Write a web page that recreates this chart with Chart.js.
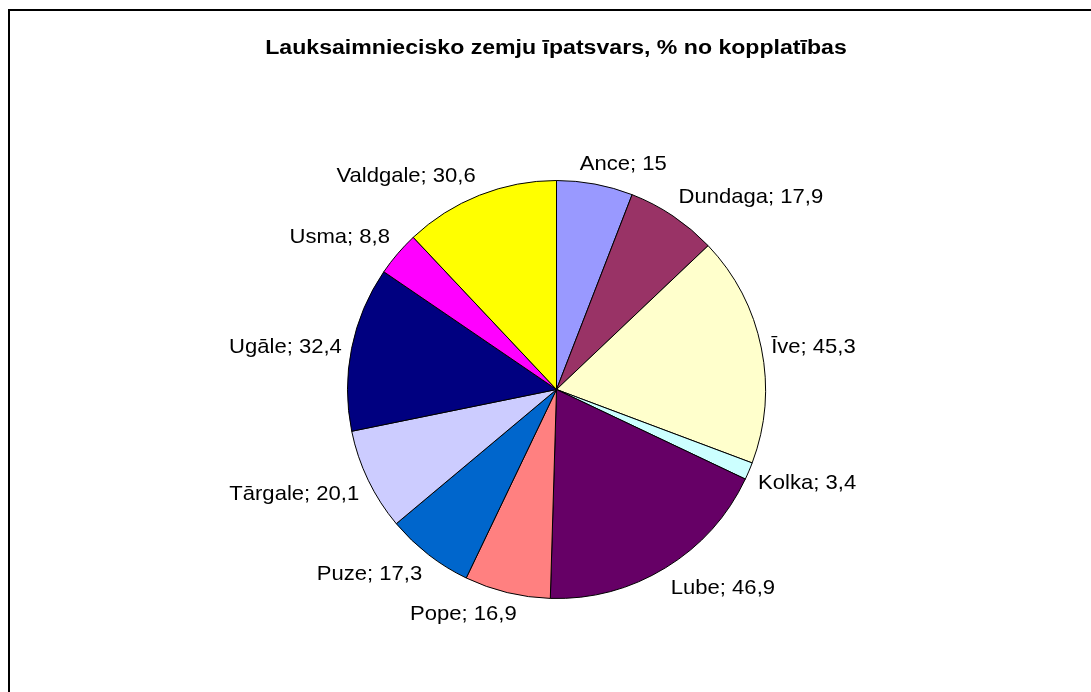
<!DOCTYPE html>
<html>
<head>
<meta charset="utf-8">
<script src="https://cdn.jsdelivr.net/npm/chart.js@4/dist/chart.umd.min.js"></script>
<style>
  html, body { margin: 0; padding: 0; background: #fff; }
  #wrap { position: relative; width: 1091px; height: 692px; }
</style>
</head>
<body>
<div id="wrap"><canvas id="myChart"></canvas></div>
<script>
const chartTitle = 'Lauksaimniecisko zemju īpatsvars, % no kopplatības';
const places = ['Ance', 'Dundaga', 'Īve', 'Kolka', 'Lube', 'Pope', 'Puze', 'Tārgale', 'Ugāle', 'Usma', 'Valdgale'];
const shares = [15, 17.9, 45.3, 3.4, 46.9, 16.9, 17.3, 20.1, 32.4, 8.8, 30.6];
const sliceColors = ['#9999FF', '#993366', '#FFFFCC', '#CCFFFF', '#660066', '#FF8080',
  '#0066CC', '#CCCCFF', '#000080', '#FF00FF', '#FFFF00'];

const FONT = '"Liberation Sans", Arial, sans-serif';
const clamp = v => Math.max(-1, Math.min(1, v));

// frame, title and the "name; value" labels round the pie
const pieExtras = {
  id: 'pieExtras',
  beforeDraw(chart) {
    const ctx = chart.ctx;
    ctx.save();
    ctx.fillStyle = '#fff';
    ctx.fillRect(0, 0, chart.width, chart.height);
    ctx.strokeStyle = '#000';
    ctx.lineWidth = 2;
    ctx.strokeRect(9, 10, chart.width + 20, chart.height + 20);

    ctx.font = 'bold 20px ' + FONT;
    ctx.fillStyle = '#000';
    ctx.textAlign = 'center';
    ctx.textBaseline = 'alphabetic';
    ctx.translate(556, 54);
    ctx.scale(1.155, 1);
    ctx.fillText(chartTitle, 0, 0);
    ctx.restore();
  },
  afterDatasetsDraw(chart) {
    const ctx = chart.ctx;
    const arcs = chart.getDatasetMeta(0).data;
    ctx.save();
    ctx.font = '21px ' + FONT;
    ctx.fillStyle = '#000';
    ctx.textAlign = 'center';
    ctx.textBaseline = 'middle';
    arcs.forEach((arc, i) => {
      const mid = (arc.startAngle + arc.endAngle) / 2;
      const dx = Math.cos(mid), dy = Math.sin(mid);
      const R = arc.outerRadius + 10;
      const ax = arc.x + R * dx, ay = arc.y + R * dy;
      const text = places[i] + '; ' + String(shares[i]).replace('.', ',');
      const w = ctx.measureText(text).width * 1.05;
      const h = 22;
      const fx = clamp(dx * 3.3);
      const fy = Math.sign(dy) * Math.min(1, Math.max(0, (Math.abs(dy) - 0.2) * 3.5));
      ctx.save();
      ctx.translate(ax + fx * w / 2, ay + fy * h / 2 + 1);
      ctx.scale(1.05, 1);
      ctx.fillText(text, 0, 0);
      ctx.restore();
    });
    ctx.restore();
  }
};

const data = {
  labels: places,
  datasets: [{
    data: shares,
    backgroundColor: sliceColors,
    borderColor: '#000',
    borderWidth: 1,
    hoverOffset: 0,
  }]
};

const config = {
  type: 'pie',
  data: data,
  options: {
    responsive: true,
    maintainAspectRatio: false,
    animation: false,
    events: [],
    layout: { padding: { top: 180, bottom: 93, left: 347, right: 325 } },
    plugins: {
      legend: { display: false },
      title: { display: false },
      tooltip: { enabled: false }
    }
  },
  plugins: [pieExtras]
};

const myChart = new Chart(document.getElementById('myChart'), config);
</script>
</body>
</html>
